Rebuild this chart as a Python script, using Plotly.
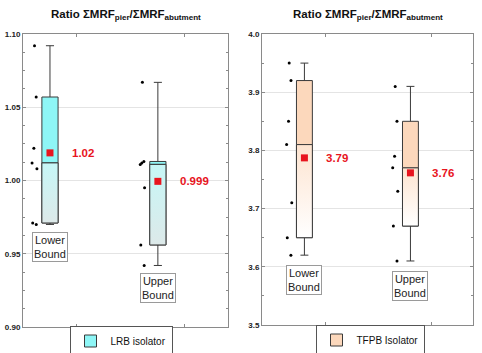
import numpy as np
import plotly.graph_objects as go

# ---------------- data ----------------
bound_labels = ["Lower<br>Bound", "Upper<br>Bound"]
lrb_lower = [1.092, 1.057, 1.022, 1.012, 1.008, 0.971, 0.970]
lrb_upper = [1.067, 1.013, 1.012, 1.011, 0.995, 0.956, 0.942]
tfpb_lower = [3.95, 3.92, 3.85, 3.81, 3.71, 3.65, 3.62]
tfpb_upper = [3.91, 3.85, 3.79, 3.77, 3.73, 3.67, 3.61]
series_names = ["LRB isolator", "TFPB Isolator"]
left_ticks = [0.90, 0.95, 1.00, 1.05, 1.10]
right_ticks = [3.5, 3.6, 3.7, 3.8, 3.9, 4.0]

FONT = "Liberation Sans Narrow, Liberation Sans, Arial"
BOXW = 0.15

panels = [
    dict(groups=[lrb_lower, lrb_upper], name=series_names[0], xa="x", ya="y",
         top="#8ef6f6", grad=["#dde9e9", "#c6f7f7"], legend="legend", yshift=-8),
    dict(groups=[tfpb_lower, tfpb_upper], name=series_names[1], xa="x2", ya="y2",
         top="#fcd8bc", grad=["#ffffff", "#fde4d0"], legend="legend2", yshift=-10),
]

fig = go.Figure()
annotations = []

for p in panels:
    for i, vals in enumerate(p["groups"]):
        pos = i + 1
        arr = np.array(vals)
        q1 = np.quantile(arr, 0.25, method="weibull")
        med = np.median(arr)
        q3 = np.quantile(arr, 0.75, method="weibull")
        mean = arr.mean()
        xl, xr = pos - BOXW / 2, pos + BOXW / 2
        # box (fill, outline, whiskers, points)
        fig.add_trace(go.Box(
            y=vals, x=[pos] * len(vals), width=BOXW, quartilemethod="exclusive",
            fillcolor=p["top"], line=dict(color="#3a3a3a", width=1),
            whiskerwidth=0.5, boxpoints="all", pointpos=-1.9, jitter=0.4,
            marker=dict(color="black", size=3),
            name=p["name"], showlegend=(i == 0), legend=p["legend"],
            xaxis=p["xa"], yaxis=p["ya"]))
        # lower (gradient) part of box, from Q1 to the median
        fig.add_trace(go.Scatter(
            x=[xl, xr, xr, xl, xl], y=[q1, q1, med, med, q1], mode="lines",
            fill="toself",
            fillgradient=dict(type="vertical", start=q1, stop=med,
                              colorscale=[[0, p["grad"][0]], [1, p["grad"][1]]]),
            line=dict(color="#3a3a3a", width=1), showlegend=False,
            xaxis=p["xa"], yaxis=p["ya"], hoverinfo="skip"))
        # mean marker
        fig.add_trace(go.Scatter(
            x=[pos], y=[mean], mode="markers",
            marker=dict(symbol="square", size=7, color="#e8141e"),
            showlegend=False, xaxis=p["xa"], yaxis=p["ya"]))
        annotations.append(dict(
            x=pos, y=mean, xref=p["xa"], yref=p["ya"], text=f"{mean:.3g}",
            showarrow=False, xanchor="left", xshift=20,
            font=dict(family=FONT, size=11.5, color="#e8141e", weight="bold")))
        annotations.append(dict(
            x=pos, y=arr.min(), xref=p["xa"], yref=p["ya"], text=bound_labels[i],
            showarrow=False, xanchor="center", yanchor="top", yshift=p["yshift"],
            bgcolor="white", bordercolor="#9a9a9a", borderwidth=1, borderpad=1,
            font=dict(family=FONT, size=11, color="#222")))

title_text = "Ratio ΣMRF<sub>pier</sub>/ΣMRF<sub>abutment</sub>"
for xc in [125.5 / 482, 367.5 / 482]:
    annotations.append(dict(
        x=xc, y=1 - 15 / 353, xref="paper", yref="paper", text=title_text,
        showarrow=False, xanchor="center", yanchor="middle",
        font=dict(family=FONT, size=11.5, color="#111", weight="bold")))

axis_common = dict(showline=True, linecolor="#8a8a8a", linewidth=1, mirror="ticks",
                   zeroline=False)

fig.update_layout(
    width=482, height=353,
    margin=dict(l=0, r=0, t=0, b=0, autoexpand=False),
    paper_bgcolor="white", plot_bgcolor="white",
    font=dict(family=FONT),
    xaxis=dict(domain=[23 / 482, 228 / 482], range=[0.75, 2.65],
               tickvals=[1.25, 2.25], showticklabels=False, ticks="inside",
               ticklen=3, tickcolor="#8a8a8a", showgrid=False, **axis_common),
    yaxis=dict(domain=[26 / 353, 319 / 353], range=[0.90, 1.10],
               tickvals=left_ticks, tickformat=".2f", ticks="inside", ticklen=3,
               tickcolor="#8a8a8a", showgrid=True, gridcolor="#e4e4e4",
               tickfont=dict(size=8, color="#222", weight="bold"),
               minor=dict(dtick=0.0125, ticks="inside", ticklen=2,
                          tickcolor="#8a8a8a", showgrid=False),
               **axis_common),
    xaxis2=dict(domain=[262 / 482, 473 / 482], range=[0.60, 2.59],
                tickvals=[1.2, 2.2], showticklabels=False, ticks="inside",
                ticklen=3, tickcolor="#8a8a8a", showgrid=False, anchor="y2",
                **axis_common),
    yaxis2=dict(domain=[28 / 353, 319 / 353], range=[3.5, 4.0], anchor="x2",
                tickvals=right_ticks, tickformat=".1f", ticks="inside", ticklen=3,
                tickcolor="#8a8a8a", showgrid=True, gridcolor="#e4e4e4",
                tickfont=dict(size=8, color="#222", weight="bold"),
                minor=dict(dtick=0.05, ticks="inside", ticklen=2,
                           tickcolor="#8a8a8a", showgrid=False),
                **axis_common),
    legend=dict(x=121 / 482, y=12 / 353, xanchor="center", yanchor="middle",
                bordercolor="#555", borderwidth=1, bgcolor="white",
                font=dict(family=FONT, size=10, color="#111"), itemwidth=30,
                tracegroupgap=0),
    legend2=dict(x=370 / 482, y=13 / 353, xanchor="center", yanchor="middle",
                 bordercolor="#555", borderwidth=1, bgcolor="white",
                 font=dict(family=FONT, size=10, color="#111"), itemwidth=30,
                 tracegroupgap=0),
    annotations=annotations,
)

fig.write_html(
    "out.html",
    config={"displayModeBar": False},
    post_script="document.body.style.margin='0';document.body.style.padding='0';",
)
